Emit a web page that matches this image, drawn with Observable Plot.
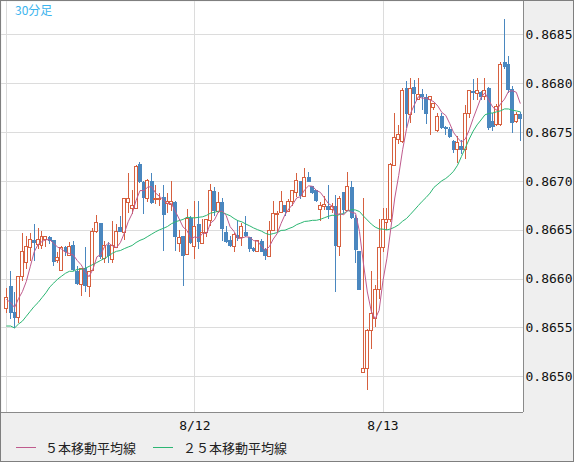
<!DOCTYPE html>
<html><head><meta charset="utf-8">
<script src="https://cdn.jsdelivr.net/npm/d3@7"></script>
<script src="https://cdn.jsdelivr.net/npm/@observablehq/plot@0.6"></script>
<style>
body{margin:0;background:#fff;}
#wrap{position:relative;width:572px;height:460px;border:1px solid #7f7f7f;background:#efefef;overflow:hidden;}
#chart svg{display:block;}
#tf{position:absolute;left:14px;top:0px;font:12px "Noto Sans CJK JP";color:#3ab4ee;}
#legend{position:absolute;left:0;top:432px;height:28px;display:flex;align-items:center;font:13px "Noto Sans CJK JP";color:#222;white-space:nowrap;}
.sw{display:inline-block;width:20px;height:1px;}
</style></head><body>
<div id="wrap"><div id="chart"></div><div id="tf">30分足</div>
<div id="legend"><span class="sw" id="sw1" style="margin-left:15px;margin-right:9px"></span><span id="lb1"></span><span class="sw" id="sw2" style="margin-left:17px;margin-right:10px"></span><span id="lb2"></span></div></div>
<script>
const open=[0.86569,0.86592,0.86566,0.86560,0.86602,0.86616,0.86632,0.86640,0.86635,0.86634,0.86640,0.86643,0.86640,0.86619,0.86608,0.86632,0.86624,0.86634,0.86608,0.86594,0.86611,0.86592,0.86608,0.86648,0.86657,0.86621,0.86634,0.86620,0.86632,0.86653,0.86647,0.86678,0.86672,0.86672,0.86717,0.86699,0.86682,0.86700,0.86681,0.86681,0.86684,0.86677,0.86676,0.86678,0.86636,0.86644,0.86625,0.86662,0.86633,0.86656,0.86636,0.86647,0.86659,0.86690,0.86669,0.86678,0.86648,0.86640,0.86633,0.86645,0.86642,0.86648,0.86643,0.86631,0.86628,0.86639,0.86630,0.86623,0.86649,0.86666,0.86668,0.86675,0.86669,0.86679,0.86688,0.86700,0.86684,0.86704,0.86695,0.86691,0.86671,0.86674,0.86674,0.86671,0.86674,0.86633,0.86689,0.86670,0.86694,0.86662,0.86628,0.86504,0.86508,0.86547,0.86559,0.86589,0.86632,0.86657,0.86660,0.86716,0.86742,0.86740,0.86795,0.86768,0.86796,0.86783,0.86789,0.86786,0.86783,0.86775,0.86752,0.86766,0.86755,0.86753,0.86741,0.86732,0.86736,0.86732,0.86769,0.86792,0.86789,0.86791,0.86786,0.86795,0.86761,0.86758,0.86758,0.86822,0.86820,0.86794,0.86761,0.86768];
const high=[0.86590,0.86608,0.86586,0.86603,0.86647,0.86644,0.86647,0.86656,0.86652,0.86649,0.86644,0.86644,0.86640,0.86627,0.86633,0.86633,0.86637,0.86638,0.86613,0.86611,0.86632,0.86608,0.86652,0.86665,0.86657,0.86639,0.86637,0.86659,0.86656,0.86664,0.86682,0.86708,0.86691,0.86716,0.86719,0.86700,0.86702,0.86708,0.86696,0.86688,0.86696,0.86688,0.86700,0.86679,0.86650,0.86644,0.86671,0.86664,0.86679,0.86679,0.86661,0.86661,0.86697,0.86694,0.86689,0.86682,0.86654,0.86644,0.86647,0.86659,0.86657,0.86664,0.86643,0.86632,0.86640,0.86641,0.86631,0.86659,0.86679,0.86669,0.86690,0.86675,0.86681,0.86691,0.86708,0.86700,0.86713,0.86709,0.86695,0.86691,0.86678,0.86685,0.86696,0.86677,0.86686,0.86685,0.86689,0.86709,0.86700,0.86665,0.86628,0.86682,0.86548,0.86608,0.86593,0.86661,0.86672,0.86672,0.86718,0.86769,0.86757,0.86795,0.86802,0.86805,0.86803,0.86805,0.86794,0.86789,0.86787,0.86780,0.86769,0.86769,0.86756,0.86755,0.86742,0.86746,0.86742,0.86778,0.86793,0.86804,0.86805,0.86792,0.86805,0.86796,0.86769,0.86779,0.86822,0.86866,0.86828,0.86797,0.86770,0.86770];
const low=[0.86565,0.86559,0.86549,0.86555,0.86598,0.86610,0.86618,0.86618,0.86630,0.86630,0.86632,0.86635,0.86613,0.86616,0.86608,0.86623,0.86623,0.86608,0.86593,0.86582,0.86586,0.86581,0.86608,0.86647,0.86620,0.86616,0.86616,0.86616,0.86632,0.86648,0.86640,0.86667,0.86666,0.86671,0.86698,0.86666,0.86678,0.86676,0.86676,0.86674,0.86628,0.86667,0.86669,0.86628,0.86627,0.86592,0.86625,0.86635,0.86620,0.86630,0.86635,0.86643,0.86654,0.86664,0.86667,0.86639,0.86636,0.86632,0.86627,0.86639,0.86633,0.86643,0.86627,0.86627,0.86627,0.86627,0.86619,0.86623,0.86649,0.86647,0.86667,0.86664,0.86669,0.86674,0.86684,0.86681,0.86684,0.86699,0.86687,0.86678,0.86659,0.86670,0.86661,0.86667,0.86586,0.86623,0.86667,0.86670,0.86661,0.86616,0.86588,0.86503,0.86486,0.86528,0.86550,0.86579,0.86627,0.86650,0.86658,0.86715,0.86738,0.86739,0.86754,0.86759,0.86769,0.86783,0.86773,0.86758,0.86747,0.86773,0.86750,0.86753,0.86747,0.86744,0.86729,0.86718,0.86728,0.86722,0.86764,0.86783,0.86783,0.86783,0.86783,0.86752,0.86751,0.86756,0.86756,0.86815,0.86790,0.86749,0.86759,0.86741];
const close=[0.86581,0.86565,0.86560,0.86602,0.86628,0.86633,0.86640,0.86636,0.86640,0.86643,0.86643,0.86639,0.86617,0.86622,0.86632,0.86627,0.86633,0.86609,0.86594,0.86610,0.86592,0.86607,0.86648,0.86657,0.86622,0.86634,0.86623,0.86634,0.86648,0.86648,0.86682,0.86682,0.86675,0.86715,0.86699,0.86682,0.86700,0.86677,0.86682,0.86682,0.86665,0.86679,0.86679,0.86643,0.86642,0.86623,0.86662,0.86636,0.86653,0.86637,0.86647,0.86660,0.86690,0.86669,0.86678,0.86651,0.86637,0.86633,0.86645,0.86642,0.86653,0.86644,0.86630,0.86628,0.86639,0.86627,0.86623,0.86649,0.86667,0.86667,0.86679,0.86668,0.86679,0.86690,0.86700,0.86685,0.86703,0.86699,0.86688,0.86679,0.86675,0.86676,0.86670,0.86674,0.86633,0.86682,0.86670,0.86694,0.86662,0.86629,0.86588,0.86508,0.86547,0.86564,0.86589,0.86632,0.86661,0.86661,0.86717,0.86744,0.86747,0.86793,0.86768,0.86795,0.86789,0.86788,0.86786,0.86768,0.86786,0.86779,0.86766,0.86754,0.86753,0.86745,0.86732,0.86739,0.86732,0.86769,0.86792,0.86790,0.86792,0.86786,0.86793,0.86754,0.86755,0.86776,0.86819,0.86817,0.86793,0.86759,0.86768,0.86763];
// moving-average values before a full window exists
const ma5Head=[0.86579,0.86576,0.86571,0.86580];
const ma25Head=[0.86552,0.86552,0.86550,0.86554,0.86557,0.86562,0.86567,0.86572,0.86576,0.86581,0.86586,0.86592,0.86596,0.86600,0.86603,0.86606,0.86608,0.86608,0.86610,0.86610,0.86611,0.86613,0.86615,0.86617];
const dayTicks=[0,48,96];
const dayLabels=["","8/12","8/13"];
const priceTicks=[0.8650,0.8655,0.8660,0.8665,0.8670,0.8675,0.8680,0.8685];
const legendLabels=["５本移動平均線","２５本移動平均線"];

const UP="#d6603f", DOWN="#4a87bf", MA5C="#bf5b8d", MA25C="#2cb673", GRID="#dcdcdc";

function movingAvg(vals,k,head){return vals.map((v,i)=>i<k-1?head[i]:d3.mean(vals.slice(i-k+1,i+1)));}
const ma5=movingAvg(close,5,ma5Head), ma25=movingAvg(close,25,ma25Head);
const data=close.map((c,i)=>({i,o:open[i],h:high[i],l:low[i],c,up:c>=open[i],ma5:ma5[i],ma25:ma25[i]}));
const upD=data.filter(d=>d.up), downD=data.filter(d=>!d.up);
const xDom=[-1.33,131.84], yDom=[0.864635,0.868841];
const crisp={shapeRendering:"crispEdges"};

const chart=Plot.plot({
  width:572,height:432,marginLeft:0,marginRight:50,marginTop:0,marginBottom:21,
  style:{fontFamily:"'DejaVu Sans Mono', monospace",fontSize:"13px",color:"#111",background:"transparent",overflow:"visible"},
  x:{domain:xDom,label:null},
  y:{domain:yDom,label:null},
  marks:[
    Plot.frame({fill:"white",stroke:"none"}),
    Plot.gridY(priceTicks,{stroke:GRID,strokeOpacity:1,...crisp}),
    Plot.gridX(dayTicks,{stroke:GRID,strokeOpacity:1,...crisp}),
    Plot.ruleX(upD,{x:"i",y1:"l",y2:"h",stroke:UP,...crisp}),
    Plot.ruleX(downD,{x:"i",y1:"l",y2:"h",stroke:DOWN,...crisp}),
    Plot.ruleX(downD,{x:"i",y1:"o",y2:"c",stroke:DOWN,strokeWidth:4,...crisp}),
    Plot.rect(upD,{x1:d=>d.i-0.38,x2:d=>d.i+0.38,y1:"o",y2:"c",fill:"white",stroke:UP,strokeWidth:1,...crisp}),
    Plot.line(data,{x:"i",y:"ma25",stroke:MA25C,strokeWidth:1}),
    Plot.line(data,{x:"i",y:"ma5",stroke:MA5C,strokeWidth:1}),
    Plot.ruleY([yDom[0]],{stroke:"#8a8a8a",...crisp}),
    Plot.ruleX([xDom[1]],{stroke:"#8a8a8a",...crisp}),
    Plot.axisY(priceTicks,{anchor:"right",label:null,tickSize:0,tickPadding:2,tickFormat:d3.format(".4f"),fontSize:13}),
    Plot.axisX(dayTicks,{anchor:"bottom",label:null,tickSize:0,tickPadding:8,tickFormat:d=>dayLabels[dayTicks.indexOf(d)],fontSize:13})
  ]
});
document.getElementById("chart").appendChild(chart);
document.getElementById("sw1").style.background=MA5C;
document.getElementById("sw2").style.background=MA25C;
document.getElementById("lb1").textContent=legendLabels[0];
document.getElementById("lb2").textContent=legendLabels[1];
</script>
</body></html>
